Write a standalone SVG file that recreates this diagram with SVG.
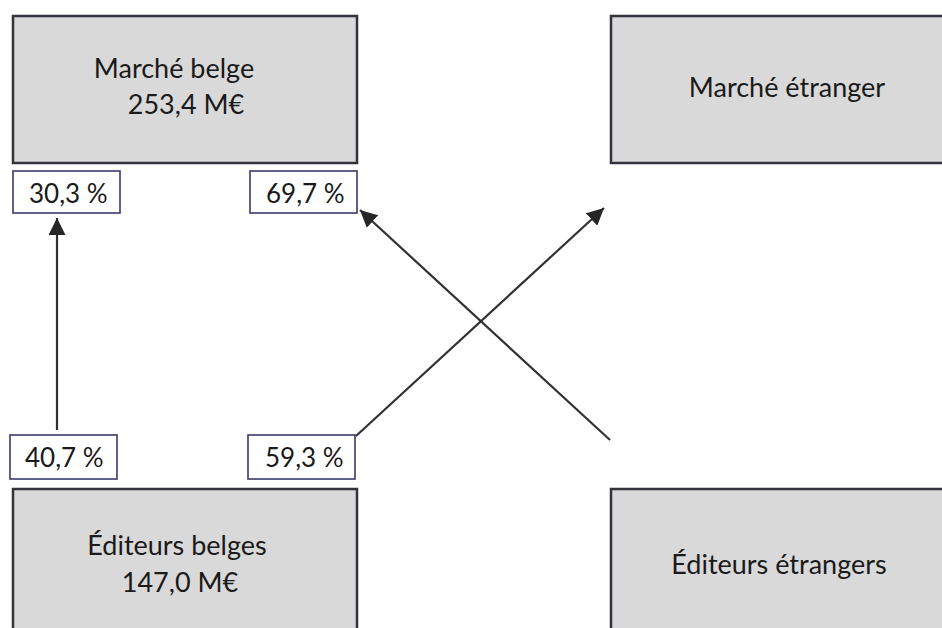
<svg xmlns="http://www.w3.org/2000/svg" width="942" height="628" viewBox="0 0 942 628">
<defs>
<style>
.box{fill:#d9d9d9;stroke:#33333c;stroke-width:2.5}
.lbl{fill:#fff;stroke:#3b3b6b;stroke-width:1.6}
text{font-family:Lato,"Open Sans",sans-serif;font-size:27px;fill:#1a1a1a}
.p{font-size:26px}
.c{text-anchor:middle}
.conn{stroke:#303038;stroke-width:2.2;fill:none;marker-end:url(#a)}
</style>
<marker id="a" viewBox="0 0 12 12" refX="12" refY="6" markerWidth="17" markerHeight="17" markerUnits="userSpaceOnUse" orient="auto">
<path d="M0,0 L12,6 L0,12 z" fill="#262626"/>
</marker>
</defs>
<g id="marche-belge">
<rect class="box" x="13" y="16" width="344" height="147"/>
<text class="c" x="174" y="78">Marché belge</text>
<text class="c" x="186" y="114">253,4 M€</text>
</g>
<g id="marche-etranger">
<rect class="box" x="611" y="16" width="340" height="147"/>
<text class="c" x="787" y="97">Marché étranger</text>
</g>
<g id="editeurs-belges">
<rect class="box" x="13" y="489" width="344" height="150"/>
<text class="c" x="177" y="555">Éditeurs belges</text>
<text class="c" x="180" y="592">147,0 M€</text>
</g>
<g id="editeurs-etrangers">
<rect class="box" x="611" y="489" width="340" height="150"/>
<text class="c" x="779" y="574">Éditeurs étrangers</text>
</g>
<g id="lbl-303">
<rect class="lbl" x="13" y="171" width="107" height="42"/>
<text class="p" x="29" y="203">30,3 %</text>
</g>
<g id="lbl-697">
<rect class="lbl" x="250" y="171" width="107" height="42"/>
<text class="p" x="266" y="203">69,7 %</text>
</g>
<g id="lbl-407">
<rect class="lbl" x="10" y="435" width="107" height="44"/>
<text class="p" x="25" y="467">40,7 %</text>
</g>
<g id="lbl-593">
<rect class="lbl" x="248" y="435" width="107" height="44"/>
<text class="p" x="265" y="467">59,3 %</text>
</g>
<g id="connectors">
<line class="conn" x1="57" y1="430" x2="57" y2="218"/>
<line class="conn" x1="356" y1="436" x2="604" y2="208"/>
<line class="conn" x1="610" y1="440" x2="360" y2="210"/>
</g>
</svg>
